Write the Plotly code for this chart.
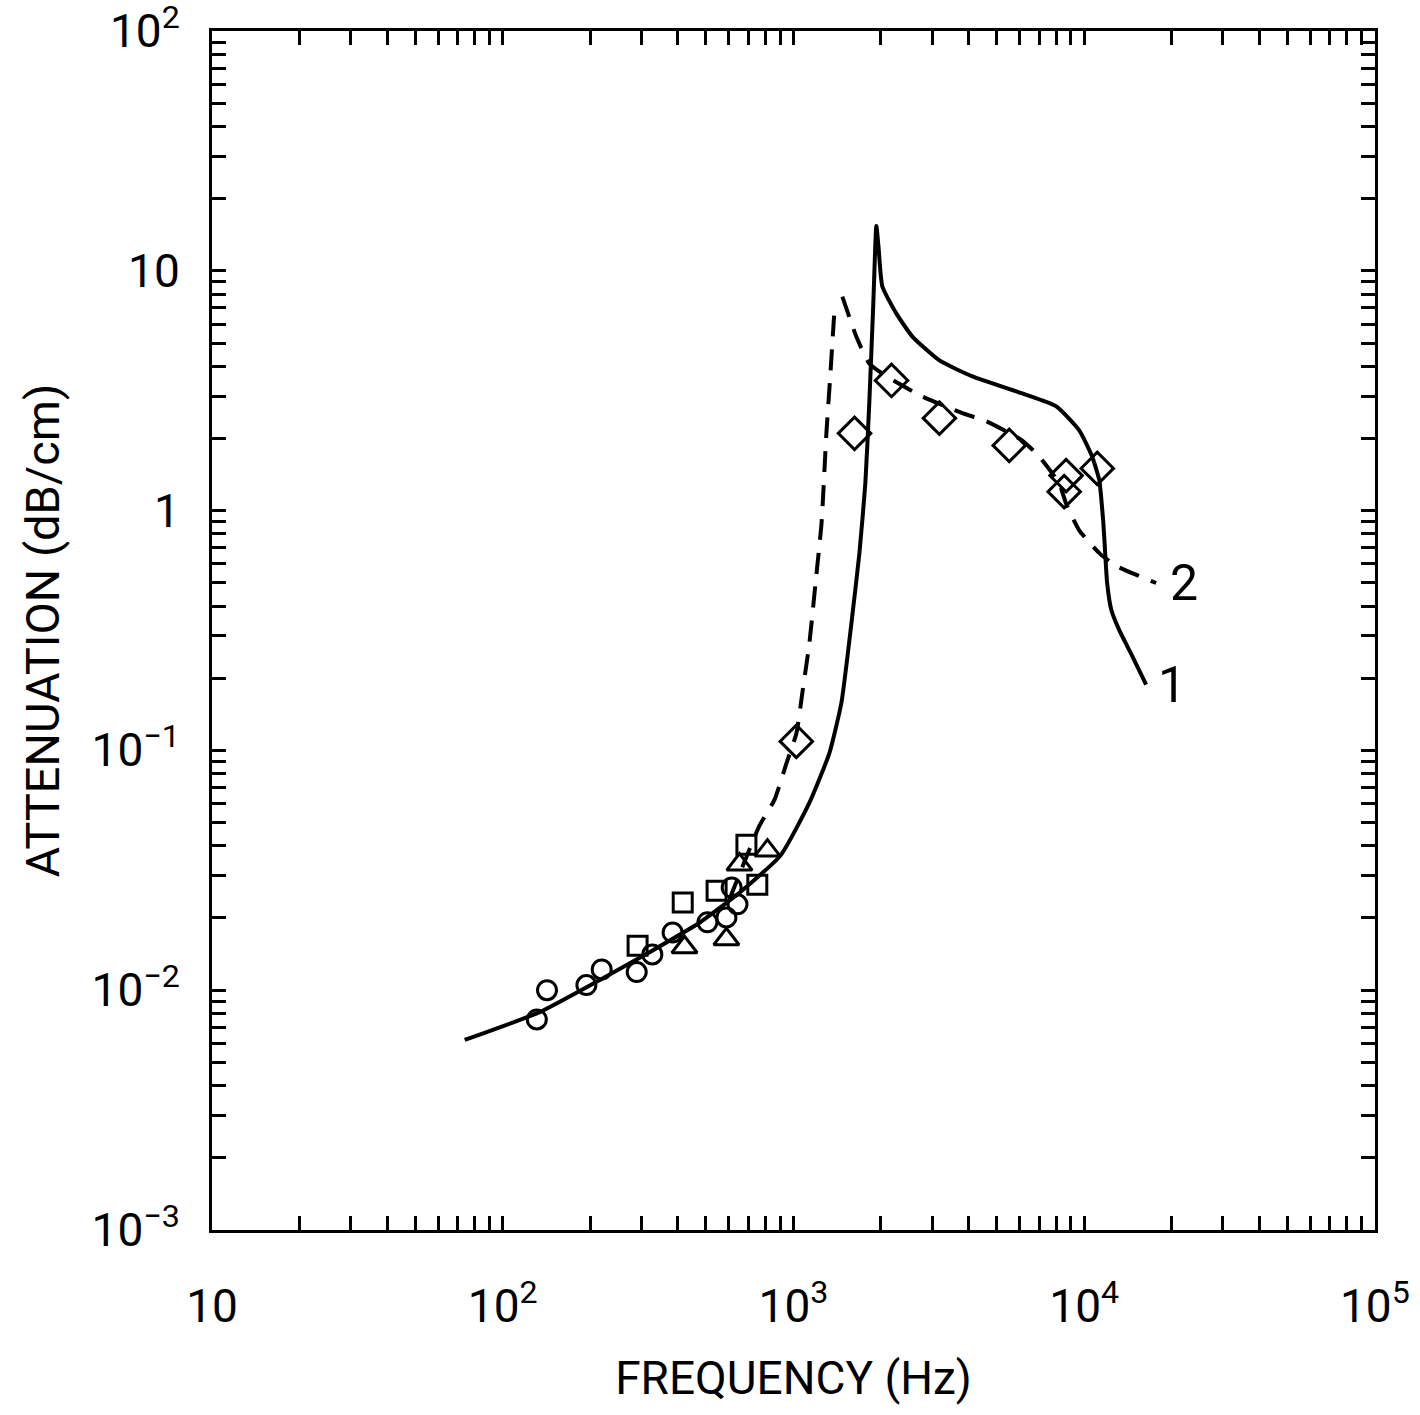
import math
import plotly.graph_objects as go

# ---------------- data ----------------
# Curve 1 (solid)
curve1_freq = [74, 134, 215, 320, 475, 652, 902, 1135, 1330, 1462, 1583, 1686, 1767,
               1823, 1882, 1928, 1961, 2022, 2260, 2565, 3177, 4124, 6124, 8016, 9616,
               10650, 11270, 11430, 11640, 11810, 11990, 12400, 13190, 14620, 16330]
curve1_att = [0.0062, 0.0081, 0.0110, 0.0144, 0.0191, 0.0255, 0.0364, 0.0605, 0.0977,
              0.158, 0.340, 0.665, 1.30, 2.80, 7.3, 15.4, 12.6, 8.6, 6.63, 5.32, 4.23,
              3.63, 3.08, 2.72, 2.16, 1.68, 1.34, 1.15, 0.887, 0.665, 0.50, 0.385,
              0.318, 0.248, 0.188]

# Curve 2 (dashed), low-frequency branch up to the resonance
curve2_low_freq = [603, 764, 861, 947, 1024, 1073, 1135, 1191, 1249, 1298, 1340, 1383]
curve2_low_att = [0.0240, 0.0485, 0.0623, 0.0887, 0.118, 0.174, 0.281, 0.499, 0.887,
                  2.10, 3.73, 6.82]
# Curve 2 (dashed), high-frequency branch after the resonance
curve2_high_freq = [1473, 1645, 1823, 2088, 2776, 3811, 4605, 6124, 7006, 8200, 8665,
                    9616, 11270, 12890, 17680]
curve2_high_att = [7.81, 5.32, 4.11, 3.63, 2.99, 2.55, 2.36, 1.96, 1.68, 1.30, 1.07,
                   0.828, 0.665, 0.588, 0.499]

# Measured points
circle_freq = [131, 142, 194, 219, 289, 327, 384, 506, 588, 642, 613]
circle_att = [0.00755, 0.0100, 0.0105, 0.0122, 0.0119, 0.0141, 0.0174, 0.0192, 0.0201,
              0.0228, 0.0268]
square_freq = [291, 416, 544, 689, 751]
square_att = [0.0153, 0.0232, 0.0260, 0.0404, 0.0275]
triangle_freq = [422, 588, 652, 814]
triangle_att = [0.0151, 0.0163, 0.0334, 0.0382]
diamond_freq = [1023, 1622, 2174, 3177, 5524, 8665, 8534, 11090]
diamond_att = [0.109, 2.10, 3.49, 2.43, 1.87, 1.40, 1.20, 1.50]

# Axes
x_major = [10, 100, 1000, 10000, 100000]
x_major_text = ["10", "10<sup>2</sup>", "10<sup>3</sup>", "10<sup>4</sup>", "10<sup>5</sup>"]
y_major = [0.001, 0.01, 0.1, 1, 10, 100]
y_major_text = ["10<sup>\u22123</sup>", "10<sup>\u22122</sup>", "10<sup>\u22121</sup>",
                "1", "10", "10<sup>2</sup>"]
x_title = "FREQUENCY (Hz)"
y_title = "ATTENUATION (dB/cm)"
curve_labels = ["1", "2"]


def minor_ticks(majors):
    return [m * k for m in majors[:-1] for k in range(2, 10)]


FONT = "Roboto, 'DejaVu Sans Condensed', 'Liberation Sans', sans-serif"
BLACK = "#000000"

fig = go.Figure()

fig.add_trace(go.Scatter(x=curve1_freq, y=curve1_att, mode="lines",
                         line=dict(color=BLACK, width=4, shape="spline", smoothing=0.5),
                         showlegend=False))
fig.add_trace(go.Scatter(x=curve2_low_freq, y=curve2_low_att, mode="lines",
                         line=dict(color=BLACK, width=4, dash="21px,13px", shape="spline",
                                   smoothing=0.5),
                         showlegend=False))
fig.add_trace(go.Scatter(x=curve2_high_freq, y=curve2_high_att, mode="lines",
                         line=dict(color=BLACK, width=4, dash="21px,13px", shape="spline",
                                   smoothing=0.5),
                         showlegend=False))

marker_line = dict(color=BLACK, width=3)
fig.add_trace(go.Scatter(x=circle_freq, y=circle_att, mode="markers",
                         marker=dict(symbol="circle-open", size=19, line=marker_line,
                                     color=BLACK),
                         showlegend=False))
fig.add_trace(go.Scatter(x=square_freq, y=square_att, mode="markers",
                         marker=dict(symbol="square-open", size=19, line=marker_line,
                                     color=BLACK),
                         showlegend=False))
fig.add_trace(go.Scatter(x=triangle_freq, y=triangle_att, mode="markers",
                         marker=dict(symbol="triangle-up-open", size=22, line=marker_line,
                                     color=BLACK),
                         showlegend=False))
fig.add_trace(go.Scatter(x=diamond_freq, y=diamond_att, mode="markers",
                         marker=dict(symbol="diamond-open", size=25, line=marker_line,
                                     color=BLACK),
                         showlegend=False))

# curve labels next to the end of each curve
for lab, fx, fy, shift in [(curve_labels[0], curve1_freq[-1], curve1_att[-1], 10),
                           (curve_labels[1], curve2_high_freq[-1], curve2_high_att[-1], 12)]:
    fig.add_annotation(x=math.log10(fx), y=math.log10(fy), text=lab, showarrow=False,
                       xanchor="left", yanchor="middle", xshift=shift,
                       font=dict(family=FONT, size=50, color=BLACK))

axis_common = dict(
    type="log", showgrid=False, zeroline=False,
    showline=True, linecolor=BLACK, linewidth=3, mirror="ticks",
    ticks="inside", ticklen=14, tickwidth=2.5, tickcolor=BLACK,
    tickmode="array", ticklabeloverflow="allow",
    tickfont=dict(family=FONT, size=46, color=BLACK),
)

fig.update_xaxes(range=[1, 5.0003], tickvals=x_major, ticktext=x_major_text,
                 minor=dict(tickmode="array", tickvals=minor_ticks(x_major),
                            ticks="inside", ticklen=14, tickwidth=2.5, tickcolor=BLACK,
                            showgrid=False),
                 ticklabelstandoff=34,
                 title=dict(text=x_title, font=dict(family=FONT, size=46, color=BLACK),
                            standoff=30),
                 **axis_common)
fig.update_yaxes(range=[-3.0003, 2.0003], tickvals=y_major, ticktext=y_major_text,
                 minor=dict(tickmode="array", tickvals=minor_ticks(y_major),
                            ticks="inside", ticklen=14, tickwidth=2.5, tickcolor=BLACK,
                            showgrid=False),
                 ticklabelstandoff=20,
                 title=dict(text=y_title, font=dict(family=FONT, size=47, color=BLACK),
                            standoff=18),
                 **axis_common)

fig.update_layout(
    width=1420, height=1415,
    margin=dict(l=212, r=45, t=31, b=185, autoexpand=False),
    paper_bgcolor="white", plot_bgcolor="white",
    font=dict(family=FONT, color=BLACK),
)

fig.write_html("out.html", config={"displayModeBar": False},
               post_script="document.body.style.margin='0px';")
